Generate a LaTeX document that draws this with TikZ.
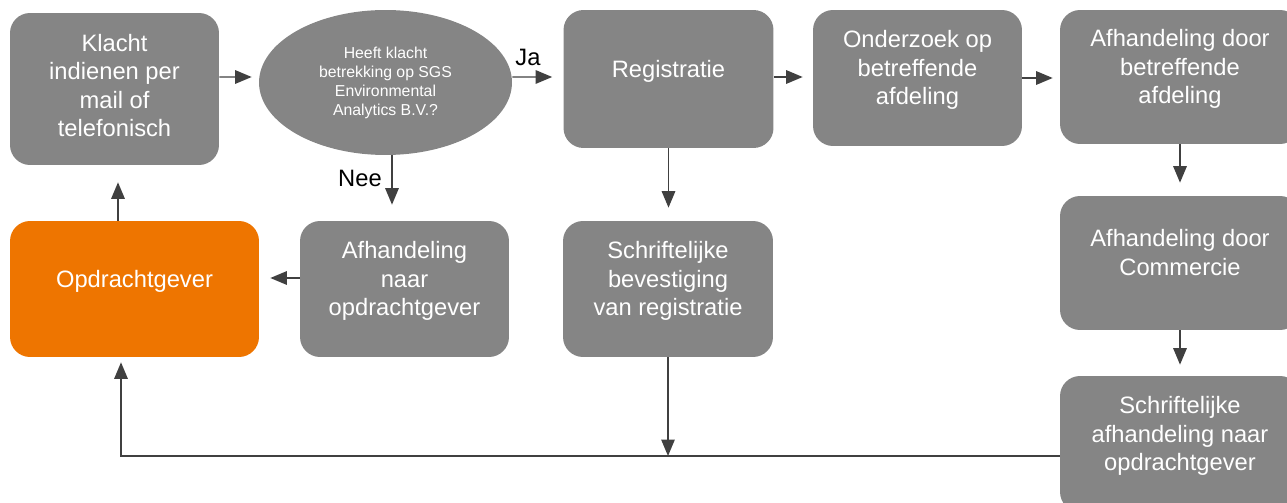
\documentclass[tikz,border=0pt]{standalone}
\usepackage{fontspec}
\setmainfont{Liberation Sans}
\usetikzlibrary{shapes.geometric,arrows.meta}
\definecolor{blokgrijs}{RGB}{133,133,133}
\definecolor{oranje}{RGB}{238,117,0}
\definecolor{lijn}{RGB}{64,64,64}

\begin{document}
\begin{tikzpicture}[x=0.02cm,y=-0.02cm]
    \tikzstyle{blok}=[rectangle,rounded corners=0.4cm,fill=blokgrijs,text=white,align=center,inner sep=0pt,font=\fontsize{13.5}{16.2}\selectfont,text depth=12pt]
    \tikzstyle{vraag}=[ellipse,fill=blokgrijs,text=white,align=center,inner sep=0pt,minimum width=5.06cm,minimum height=2.9cm,font=\fontsize{9}{10.8}\selectfont]
    \tikzstyle{tekst}=[font=\fontsize{13.5}{16.2}\selectfont,text=black]
    \tikzstyle{pijl}=[draw=lijn,line width=0.8pt,-{Triangle[length=0.33cm,width=0.27cm]},shorten >=0.2cm]

    \useasboundingbox (0,0) rectangle (1287,503);

    % Draw the top row
    \node[blok,minimum width=4.18cm,minimum height=3.04cm,text depth=4pt] (klacht) at (114.5,89) {Klacht\\indienen per\\mail of\\telefonisch};
    \node[vraag] (vraag) at (385.5,82.5) {Heeft klacht\\betrekking op SGS\\Environmental\\Analytics B.V.?};
    \node[blok,minimum width=4.2cm,minimum height=2.76cm] (registratie) at (668.5,79) {Registratie};
    \node[blok,minimum width=4.18cm,minimum height=2.72cm] (onderzoek) at (917.5,78) {Onderzoek op\\betreffende\\afdeling};
    \node[blok,minimum width=4.8cm,minimum height=2.68cm] (afhafdeling) at (1180,77) {Afhandeling door\\betreffende\\afdeling};

    % Draw the right column
    \node[blok,minimum width=4.8cm,minimum height=2.68cm] (commercie) at (1180,263) {Afhandeling door\\Commercie};
    \node[blok,minimum width=4.8cm,minimum height=2.72cm] (schrafh) at (1180,444) {Schriftelijke\\afhandeling naar\\opdrachtgever};

    % Draw the second row
    \node[blok,fill=oranje,minimum width=4.98cm,minimum height=2.72cm] (opdrachtgever) at (134.5,289) {Opdrachtgever};
    \node[blok,minimum width=4.18cm,minimum height=2.72cm] (afhnaar) at (404.5,289) {Afhandeling\\naar\\opdrachtgever};
    \node[blok,minimum width=4.2cm,minimum height=2.72cm] (bevestiging) at (668,289) {Schriftelijke\\bevestiging\\van registratie};

    % Answers to the question
    \node[tekst] (ja) at (528,57) {Ja};
    \node[tekst] (nee) at (360,178) {Nee};

    % Connect the top row
    \draw[pijl,shorten >=0.14cm] ([yshift=0.24cm]klacht.east) -- ([yshift=0.11cm]vraag.west);
    \draw[pijl,shorten >=0.22cm] ([yshift=0.11cm]vraag.east) -- ([yshift=0.04cm]registratie.west);
    \draw[pijl] ([yshift=0.04cm]registratie.east) -- ([yshift=0.04cm]registratie.east -| onderzoek.west);
    \draw[pijl,shorten >=0.14cm] (onderzoek.east) -- (onderzoek.east -| afhafdeling.west);
    \draw[pijl,shorten >=0.26cm] (afhafdeling.south) -- (commercie.north);
    \draw[pijl,shorten >=0.22cm] (commercie.south) -- (schrafh.north);
    \draw[pijl,shorten >=0.26cm] (registratie.south) -- (registratie.south |- bevestiging.north);
    \draw[pijl,shorten >=0.32cm] ([xshift=0.13cm]vraag.south) -- ([xshift=0.13cm]vraag.south |- afhnaar.north);

    % Back to the client
    \draw[pijl,shorten >=0.22cm] ([yshift=0.22cm]afhnaar.west) -- ([yshift=0.22cm]afhnaar.west -| opdrachtgever.east);
    \draw[pijl,shorten >=0.34cm] ([xshift=-0.33cm]opdrachtgever.north) -- ([xshift=-0.33cm]opdrachtgever.north |- klacht.south);
    \coordinate (terug) at ([yshift=-0.24cm]schrafh.west);
    \draw[pijl,shorten >=0.1cm] (terug) -| ([xshift=-0.27cm]opdrachtgever.south);
    \draw[pijl,shorten >=0pt] (bevestiging.south) -- (bevestiging.south |- terug);
\end{tikzpicture}
\end{document}
